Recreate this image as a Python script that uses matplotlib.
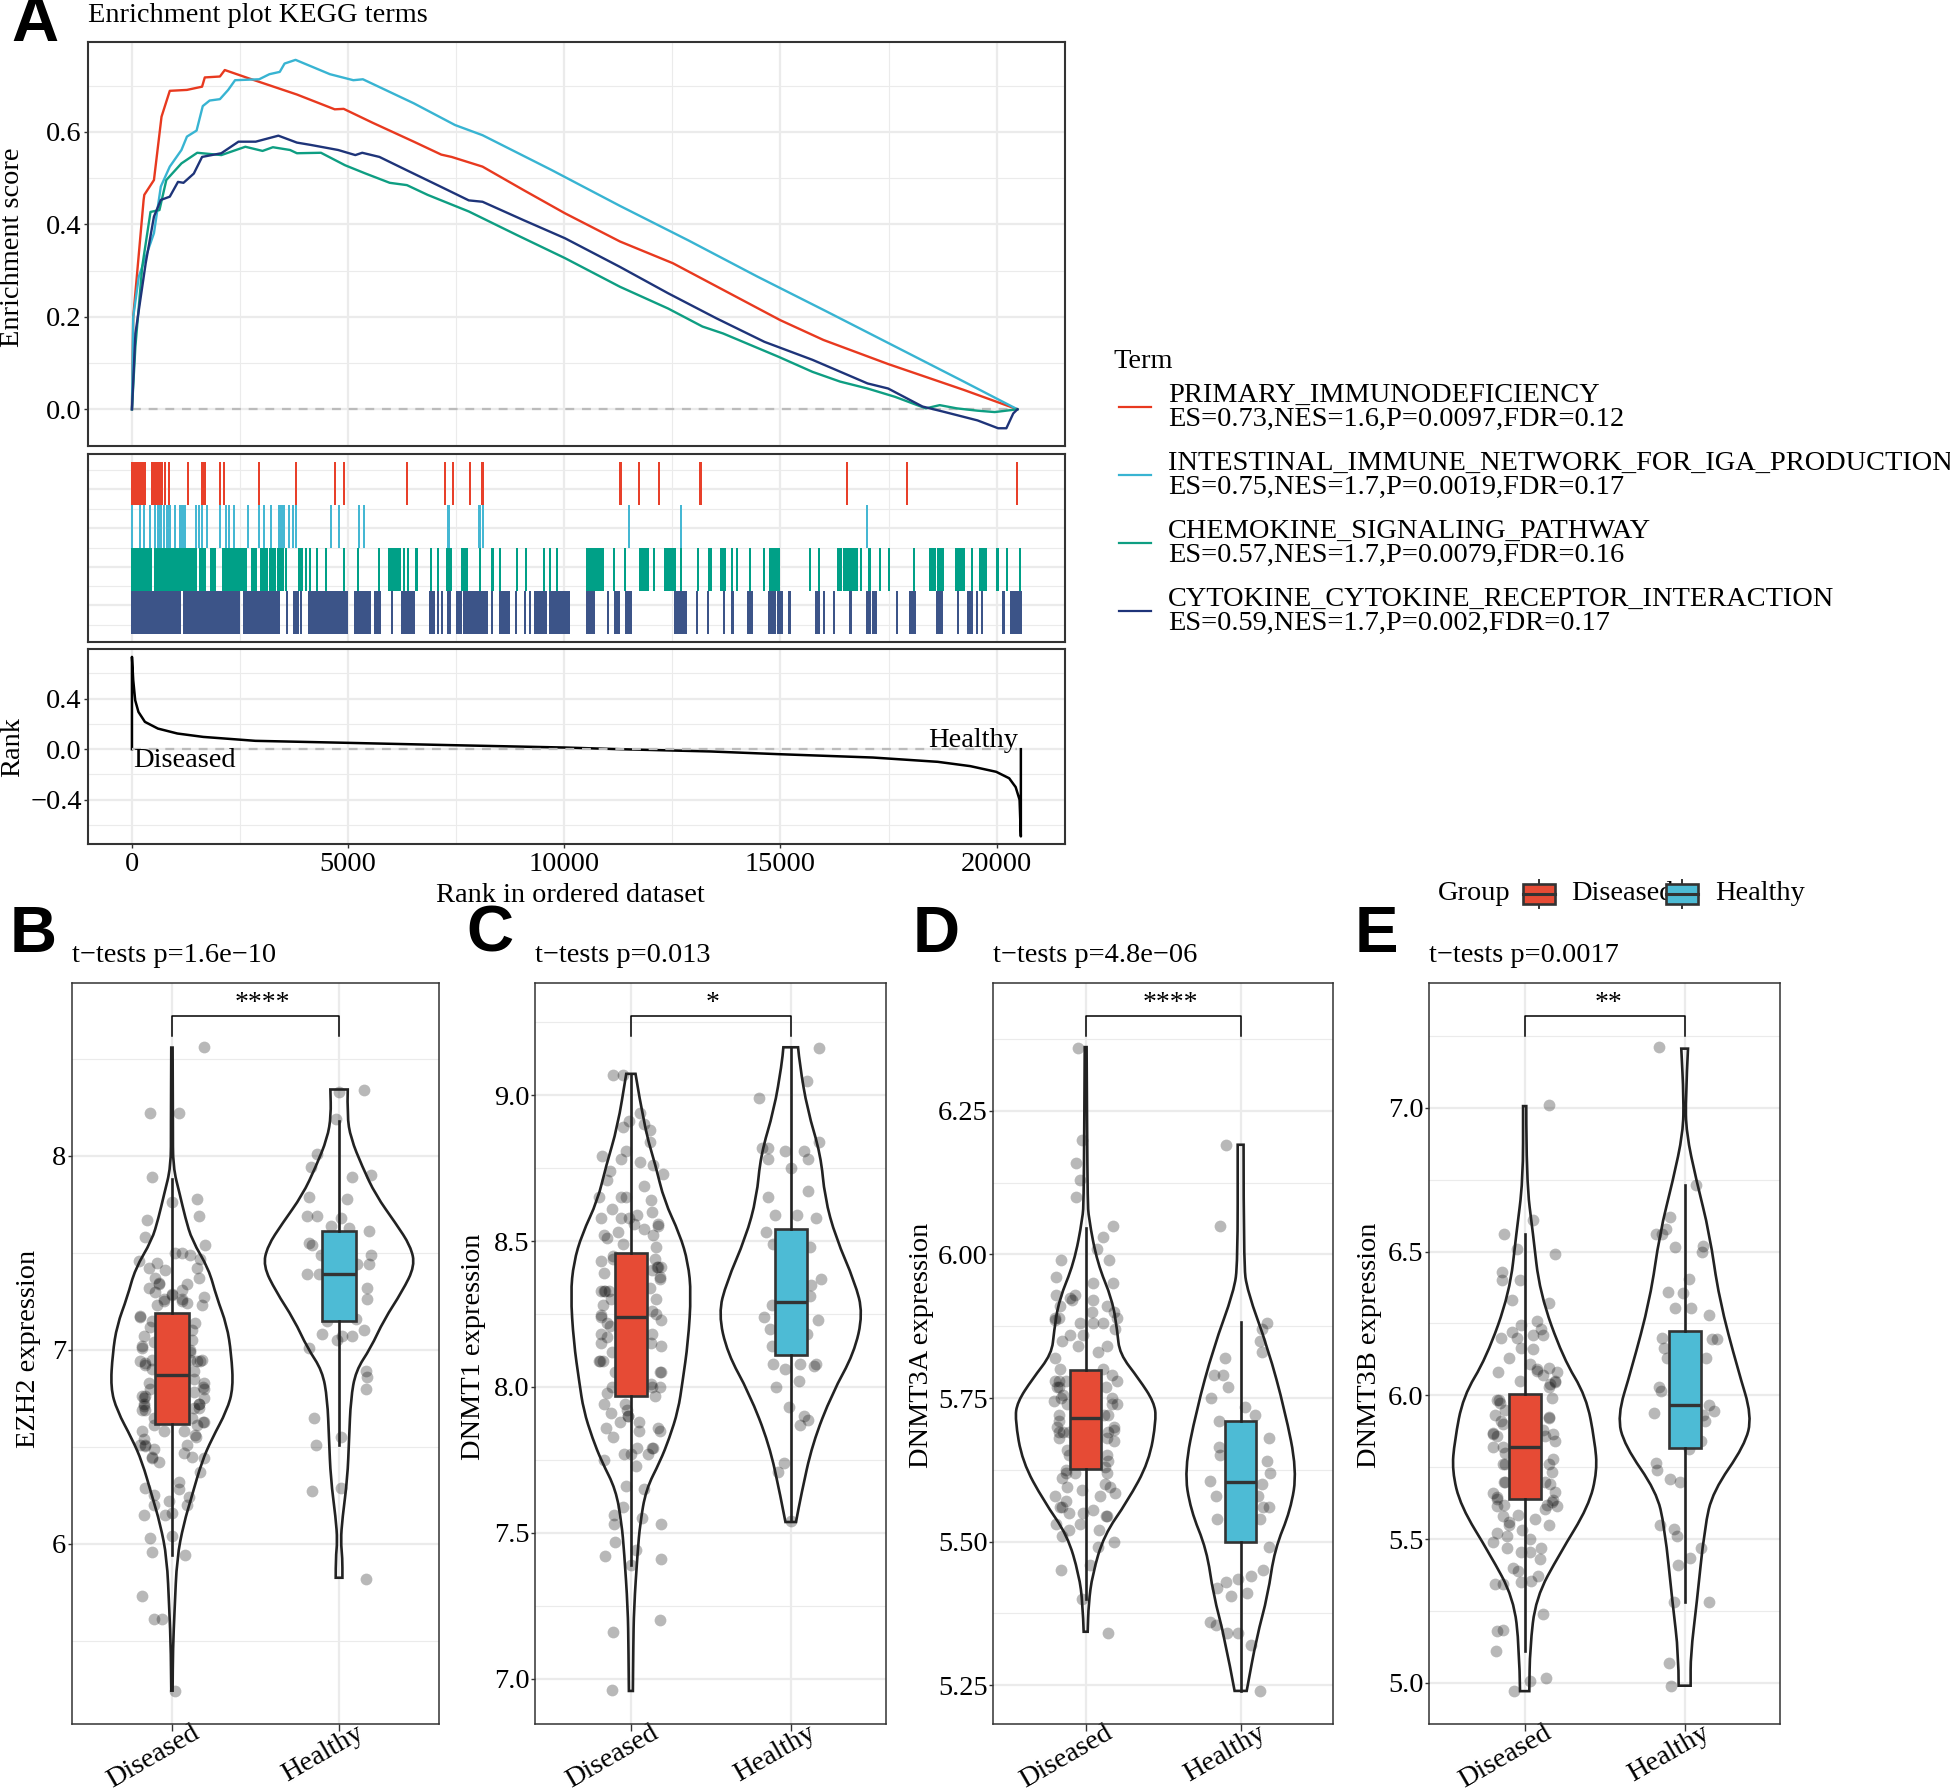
import matplotlib
matplotlib.use('Agg')
import matplotlib.pyplot as plt
from matplotlib.path import Path
from matplotlib.patches import PathPatch, Rectangle
from matplotlib.transforms import ScaledTranslation

plt.rcParams['font.family'] = ['Liberation Serif', 'DejaVu Serif']

W, H = 1950, 1789
fig = plt.figure(figsize=(W / 100, H / 100), dpi=100)

RED, BLUE, GREEN, NAVY = '#E8391F', '#38B4D2', '#0E9E82', '#1E3479'
BOX_RED, BOX_BLUE = '#E64B35', '#4DBBD5'
GRID = '#EBEBEB'
DARK = '#333333'
FS = 20.4

# ================= GSEA DATA =================
term_names = ['PRIMARY_IMMUNODEFICIENCY', 'INTESTINAL_IMMUNE_NETWORK_FOR_IGA_PRODUCTION',
              'CHEMOKINE_SIGNALING_PATHWAY', 'CYTOKINE_CYTOKINE_RECEPTOR_INTERACTION']
term_stats = ['ES=0.73,NES=1.6,P=0.0097,FDR=0.12', 'ES=0.75,NES=1.7,P=0.0019,FDR=0.17',
              'ES=0.57,NES=1.7,P=0.0079,FDR=0.16', 'ES=0.59,NES=1.7,P=0.002,FDR=0.17']

red_rank = [0, 30, 270, 286, 509, 684, 875, 1272, 1622, 1685, 2035, 2147, 2703, 3339, 3816, 4690, 4897,
            5565, 6519, 7155, 7393, 8109, 9063, 10017, 11289, 12512, 14992, 15994, 17488, 19239, 20480]
red_es = [0, .20, .453, .464, .496, .633, .689, .691, .698, .718, .720, .734, .716, .696, .681, .649, .650,
          .620, .579, .551, .546, .525, .474, .424, .363, .316, .193, .15, .098, .042, 0]

blue_rank = [0, 30, 159, 509, 668, 875, 1145, 1272, 1495, 1638, 1797, 2035, 2226, 2385, 2942, 3180, 3419, 3530,
             3784, 4579, 5120, 5342, 6519, 7473, 8109, 9699, 11289, 12879, 14469, 16059, 17649, 19239, 20480]
blue_es = [0, .20, .287, .381, .482, .525, .561, .590, .603, .656, .668, .671, .691, .712, .714, .725, .730, .748,
           .756, .725, .712, .714, .662, .615, .593, .518, .44, .365, .287, .212, .136, .06, 0]

green_rank = [0, 80, 238, 429, 636, 795, 1145, 1510, 2067, 2623, 3021, 3260, 3657, 3816, 4372, 4929, 5406, 5962,
              6360, 6837, 7791, 8904, 10017, 11289, 12402, 13197, 13674, 14946, 15741, 16377, 17013, 17649,
              18364, 18683, 19080, 19557, 19955, 20480]
green_es = [0, .136, .309, .427, .431, .496, .532, .555, .550, .568, .559, .567, .561, .554, .555, .528, .510, .490,
            .485, .464, .428, .377, .327, .265, .218, .179, .164, .114, .081, .060, .045, .027,
            .002, .009, .002, -.003, -.006, 0]

navy_rank = [0, 80, 318, 509, 668, 875, 1065, 1192, 1431, 1622, 2067, 2464, 2862, 3387, 3816, 4134, 4770, 5167,
             5326, 5724, 6360, 7155, 7791, 8109, 9063, 10017, 11289, 12402, 13515, 14628, 15741, 17013, 17490,
             18285, 18762, 19557, 20034, 20225, 20384, 20480]
navy_es = [0, .164, .316, .417, .453, .460, .492, .490, .510, .546, .554, .579, .579, .592, .577, .572, .561, .550,
           .555, .546, .517, .481, .452, .449, .409, .370, .308, .251, .197, .146, .107, .056, .045,
           .006, -.005, -.024, -.041, -.041, -.009, 0]

# rug hits as (first rank, last rank), a single hit has both the same
red_hits = [(0, 160), (200, 300), (470, 700), (770, 770), (860, 860), (1290, 1290), (1620, 1680), (2030, 2030),
            (2130, 2130), (2945, 2945), (3790, 3790), (4700, 4700), (4900, 4900), (6370, 6370), (7240, 7240),
            (7420, 7420), (7810, 7810), (8110, 8110), (11300, 11300), (11720, 11720), (12190, 12190),
            (13150, 13150), (16540, 16540), (17930, 17930), (20470, 20470)]
blue_hits = [(0, 0), (180, 180), (270, 270), (420, 420), (540, 540), (600, 600), (660, 660), (750, 750), (810, 810),
             (870, 870), (990, 990), (1110, 1110), (1170, 1170), (1230, 1230), (1490, 1490), (1550, 1550),
             (1620, 1620), (1740, 1740), (2030, 2030), (2180, 2180), (2250, 2250), (2370, 2370), (2680, 2680),
             (2930, 2930), (3050, 3050), (3220, 3220), (3400, 3400), (3460, 3520), (3640, 3640), (3730, 3730),
             (3790, 3790), (4600, 4600), (4780, 4780), (5260, 5260), (5370, 5370), (7320, 7320), (8040, 8040),
             (8120, 8120), (11500, 11500), (12700, 12700), (17000, 17000)]
green_hits = [(0, 450), (540, 930), (980, 1170), (1200, 1470), (1580, 1680), (1830, 1920), (2100, 2190), (2240, 2310),
              (2340, 2460), (2490, 2640), (2780, 2860), (2980, 3130), (3200, 3310), (3380, 3500), (3560, 3560),
              (3860, 3860), (3920, 3920), (4030, 4030), (4120, 4120), (4280, 4280), (4480, 4480), (4900, 4900),
              (5230, 5230), (5710, 5710), (5950, 6190), (6300, 6300), (6390, 6390), (6580, 6580), (6910, 6910),
              (7080, 7080), (7300, 7380), (7640, 7740), (8060, 8060), (8340, 8340), (8520, 8520), (8910, 8910),
              (9110, 9110), (9540, 9540), (9660, 9660), (9840, 9840), (10520, 10900), (11150, 11150), (11410, 11410),
              (11750, 11930), (12080, 12080), (12340, 12550), (12700, 12700), (13090, 13090), (13350, 13390),
              (13630, 13710), (13870, 13870), (13990, 13990), (14290, 14290), (14610, 14610), (14770, 14970),
              (15680, 15680), (15900, 15900), (16340, 16400), (16460, 16520), (16570, 16620), (16680, 16760),
              (16860, 16860), (17060, 17060), (17300, 17300), (17510, 17510), (18080, 18080), (18460, 18580),
              (18640, 18760), (19070, 19250), (19430, 19430), (19610, 19760), (20020, 20020), (20230, 20230),
              (20540, 20540)]
navy_hits = [(0, 480), (510, 800), (840, 1100), (1200, 1710), (1740, 1950), (1980, 2220), (2230, 2480), (2600, 2915),
             (2930, 3190), (3220, 3310), (3340, 3410), (3580, 3580), (3760, 3850), (3910, 3910), (4100, 4310),
             (4360, 4510), (4540, 4730), (4780, 4980), (5150, 5320), (5380, 5500), (5620, 5740), (6010, 6010),
             (6250, 6370), (6420, 6520), (6900, 6990), (7080, 7080), (7170, 7170), (7320, 7360), (7530, 7620),
             (7680, 7860), (7920, 8040), (8080, 8200), (8330, 8330), (8510, 8720), (8880, 8880), (9090, 9090),
             (9200, 9200), (9330, 9570), (9660, 9660), (9720, 9830), (9890, 10100), (10520, 10690), (11020, 11020),
             (11170, 11260), (11440, 11530), (12560, 12560), (12620, 12690), (12750, 12820), (13060, 13060),
             (13330, 13330), (13690, 13690), (13890, 13890), (14250, 14340), (14740, 14870), (14950, 15030),
             (15210, 15210), (15830, 15900), (16010, 16010), (16230, 16230), (16620, 16620), (17000, 17060),
             (17150, 17210), (17700, 17700), (17990, 18100), (18620, 18740), (19100, 19100), (19340, 19420),
             (19540, 19540), (19660, 19660), (20160, 20160), (20330, 20570)]

metric_rank = [0, 0, 30, 75, 150, 300, 600, 1050, 1650, 2855, 5005, 7365, 10010, 11272, 13377, 15000, 17134, 18637,
               19389, 19990, 20290, 20440, 20530, 20560, 20560]
metric_val = [0, .73, .545, .387, .295, .216, .163, .124, .097, .066, .05, .032, .013, 0, -.018, -.04, -.066, -.1,
              -.134, -.179, -.23, -.30, -.40, -.69, 0]

# ================= VIOLIN DATA =================
groups = ['Diseased', 'Healthy']

ezh2_d_outline = [(8.558, .004), (8.149, .006), (7.944, .006), (7.798, .048), (7.681, .08), (7.564, .12), (7.418, .22),
                  (7.272, .267), (7.126, .329), (6.98, .355), (6.804, .367), (6.687, .329), (6.541, .239), (6.424, .179),
                  (6.249, .12), (6.102, .07), (5.927, .03), (5.664, .016), (5.459, .006), (5.243, .004)]
ezh2_h_outline = [(8.342, .052), (8.208, .048), (8.091, .07), (7.944, .139), (7.798, .219), (7.652, .339), (7.535, .428),
                  (7.433, .454), (7.301, .378), (7.155, .269), (7.009, .189), (6.892, .1), (6.746, .07), (6.541, .06),
                  (6.336, .05), (6.132, .02), (6.015, .01), (5.927, .02), (5.825, .02)]
dnmt1_d_outline = [(9.073, .029), (8.892, .083), (8.756, .156), (8.639, .208), (8.523, .306), (8.426, .358), (8.319, .377),
                   (8.154, .358), (8.017, .323), (7.92, .296), (7.823, .24), (7.745, .183), (7.648, .094), (7.532, .058),
                   (7.434, .042), (7.24, .019), (7.104, .015), (6.958, .0125)]
dnmt1_h_outline = [(9.164, .046), (9.106, .056), (8.95, .104), (8.795, .188), (8.649, .213), (8.513, .281), (8.358, .402),
                   (8.251, .452), (8.115, .396), (7.979, .26), (7.804, .135), (7.629, .065), (7.537, .033)]
dnmt3a_d_outline = [(6.361, .006), (6.222, .009), (6.094, .013), (6.064, .019), (5.985, .075), (5.921, .172), (5.867, .204),
                    (5.827, .219), (5.783, .344), (5.743, .441), (5.713, .456), (5.639, .409), (5.57, .269), (5.511, .118),
                    (5.442, .043), (5.392, .019), (5.343, .013)]
dnmt3a_h_outline = [(6.191, .019), (5.985, .019), (5.936, .043), (5.837, .176), (5.728, .286), (5.624, .363), (5.555, .323),
                    (5.486, .219), (5.407, .176), (5.333, .103), (5.24, .039)]
dnmt3b_d_outline = [(7.006, .01), (6.748, .01), (6.563, .052), (6.357, .094), (6.13, .24), (5.996, .385), (5.841, .438),
                    (5.738, .454), (5.614, .4), (5.449, .219), (5.295, .069), (5.12, .033), (4.971, .029)]
dnmt3b_h_outline = [(7.206, .021), (7.037, .006), (6.913, .01), (6.748, .073), (6.563, .156), (6.336, .215), (6.089, .333),
                    (5.928, .421), (5.825, .375), (5.666, .177), (5.542, .125), (5.274, .075), (5.099, .0375), (4.99, .0375)]

# box stats: low whisker, q1, median, q3, high whisker
ezh2_d_box = [5.94, 6.62, 6.87, 7.19, 7.88]
ezh2_h_box = [6.51, 7.15, 7.39, 7.61, 8.18]
dnmt1_d_box = [7.39, 7.97, 8.24, 8.46, 9.07]
dnmt1_h_box = [7.54, 8.11, 8.29, 8.54, 9.16]
dnmt3a_d_box = [5.40, 5.626, 5.715, 5.798, 6.046]
dnmt3a_h_box = [5.24, 5.50, 5.603, 5.71, 5.883]
dnmt3b_d_box = [5.11, 5.64, 5.82, 6.006, 6.56]
dnmt3b_h_box = [5.28, 5.816, 5.965, 6.223, 6.73]

# jittered samples as (offset from group centre, expression)
ezh2_d_points = [(.19, 8.56), (-.13, 8.22), (.04, 8.22), (-.12, 7.89), (0, 7.76), (.15, 7.78), (.16, 7.69), (-.15, 7.67),
                 (-.16, 7.58), (.2, 7.54), (.02, 7.5), (.06, 7.5), (.11, 7.49), (.17, 7.47), (-.2, 7.46), (-.09, 7.45),
                 (-.14, 7.42), (-.04, 7.41), (.15, 7.42), (.16, 7.37), (-.1, 7.37), (-.08, 7.34), (-.14, 7.32), (.09, 7.34),
                 (.06, 7.31), (-.1, 7.3), (0, 7.28), (.19, 7.27), (-.05, 7.25), (.06, 7.25), (-.09, 7.23), (.09, 7.24),
                 (.18, 7.23), (-.19, 7.17), (.14, 7.14), (-.13, 7.12), (-.17, 7.07), (-.11, 7.04), (-.18, 7.01), (.11, 6.99),
                 (.15, 6.94), (.18, 6.95), (-.19, 6.94), (-.16, 6.92), (.13, 6.89), (-.14, 6.83), (.19, 6.83), (.19, 6.8),
                 (.13, 6.78), (-.18, 6.76), (-.16, 6.76), (.19, 6.75), (.16, 6.72), (-.17, 6.72), (-.18, 6.69), (-.16, 6.69),
                 (.16, 6.7), (.19, 6.63), (.15, 6.61), (-.11, 6.61), (-.05, 6.58), (.07, 6.58), (.14, 6.56), (-.18, 6.58),
                 (-.17, 6.54), (.09, 6.51), (-.19, 6.51), (-.16, 6.51), (-.11, 6.49), (.07, 6.47), (.12, 6.45), (-.12, 6.44),
                 (.19, 6.44), (-.08, 6.42), (.17, 6.37), (-.16, 6.29), (.04, 6.32), (.04, 6.28), (-.11, 6.25), (.1, 6.24),
                 (-.02, 6.22), (.09, 6.2), (-.11, 6.2), (0, 6.16), (-.04, 6.15), (-.17, 6.15), (0, 6.04), (-.13, 6.03),
                 (-.12, 5.96), (.08, 5.94), (-.18, 5.73), (-.11, 5.61), (-.06, 5.61), (.02, 5.24), (.12, 7.1), (.11, 7.0),
                 (-.12, 6.9), (.13, 6.7), (-.19, 7.175), (-.18, 7.02), (-.16, 6.93), (-.165, 6.75), (-.17, 6.71), (-.08, 7.345),
                 (-.05, 7.26), (0, 7.29), (.06, 7.26), (.17, 6.94), (.16, 6.72), (.185, 6.81), (.185, 6.63), (.145, 6.55),
                 (-.16, 6.505), (-.12, 6.445), (.12, 7.05), (.11, 6.95), (.13, 6.85), (-.12, 7.15), (-.12, 6.95), (-.13, 6.8),
                 (.12, 6.65), (-.11, 6.65)]
ezh2_h_points = [(.15, 8.34), (0, 8.33), (-.02, 8.19), (-.13, 8.01), (-.17, 7.94), (.19, 7.9), (.08, 7.89), (-.18, 7.79),
                 (.05, 7.78), (-.19, 7.69), (-.13, 7.69), (.01, 7.68), (-.05, 7.64), (.06, 7.63), (.18, 7.61), (-.18, 7.55),
                 (-.16, 7.54), (.19, 7.49), (-.11, 7.49), (.18, 7.44), (.11, 7.44), (-.19, 7.39), (-.12, 7.39), (.17, 7.32),
                 (.17, 7.26), (-.07, 7.15), (.1, 7.16), (.15, 7.1), (-.1, 7.08), (.02, 7.07), (.08, 7.07), (-.01, 7.05),
                 (-.18, 7.01), (.16, 6.89), (.17, 6.86), (.16, 6.8), (-.15, 6.65), (.01, 6.55), (-.14, 6.51), (-.16, 6.27),
                 (.01, 6.29), (.16, 5.82)]
dnmt1_d_points = [(-.11, 9.07), (-.05, 9.07), (.06, 8.94), (-.01, 8.91), (-.05, 8.89), (.08, 8.9), (.12, 8.88), (.12, 8.84),
                  (-.03, 8.81), (-.18, 8.79), (-.06, 8.78), (.06, 8.77), (.14, 8.76), (-.13, 8.74), (.2, 8.73), (-.15, 8.71),
                  (.08, 8.69), (-.2, 8.65), (-.03, 8.65), (-.06, 8.65), (.125, 8.64), (-.12, 8.61), (.13, 8.6), (.04, 8.59),
                  (-.19, 8.58), (-.06, 8.58), (-.01, 8.58), (.02, 8.56), (.17, 8.56), (-.08, 8.53), (.08, 8.54), (-.17, 8.52),
                  (-.15, 8.51), (.14, 8.52), (-.05, 8.49), (.16, 8.48), (-.11, 8.45), (.15, 8.44), (-.19, 8.43), (.19, 8.41),
                  (.17, 8.41), (-.17, 8.39), (.18, 8.37), (-.19, 8.33), (-.17, 8.33), (-.14, 8.33), (.12, 8.34), (.16, 8.3),
                  (-.175, 8.28), (.13, 8.26), (-.19, 8.24), (.16, 8.25), (.19, 8.23), (-.15, 8.22), (-.19, 8.18), (.13, 8.18),
                  (-.15, 8.17), (.19, 8.14), (-.19, 8.15), (-.2, 8.09), (-.175, 8.09), (.18, 8.05), (-.10, 8.05), (.18, 8.0),
                  (.125, 8.01), (-.15, 7.98), (.15, 7.97), (-.17, 7.94), (-.035, 7.94), (-.125, 7.91), (-.015, 7.9), (-.07, 7.88),
                  (.05, 7.88), (.17, 7.86), (-.155, 7.86), (.18, 7.85), (.05, 7.85), (-.115, 7.83), (.14, 7.79), (.04, 7.79),
                  (-.045, 7.77), (0, 7.77), (.11, 7.77), (-.17, 7.75), (.03, 7.73), (-.03, 7.66), (.08, 7.65), (-.05, 7.59),
                  (-.105, 7.56), (.07, 7.55), (-.105, 7.53), (.19, 7.53), (-.1, 7.47), (.03, 7.44), (-.165, 7.42), (.19, 7.41),
                  (0, 7.39), (.18, 7.2), (-.11, 7.16), (-.12, 6.96), (-.19, 8.245), (-.195, 8.09), (-.165, 8.33), (.18, 8.375),
                  (.135, 7.79), (-.02, 7.9), (-.025, 7.92), (.165, 8.41), (.17, 8.55), (.19, 8.05), (.125, 8.15), (-.125, 8.3),
                  (-.12, 8.12), (.13, 8.4), (-.12, 8.0), (-.11, 8.44), (.13, 8.0), (-.13, 8.21)]
dnmt1_h_points = [(.18, 9.16), (.1, 9.05), (-.2, 8.99), (.18, 8.84), (-.18, 8.82), (-.14, 8.82), (-.035, 8.81), (.08, 8.81),
                  (-.14, 8.78), (.105, 8.78), (0, 8.75), (.105, 8.67), (-.145, 8.65), (-.1, 8.59), (.04, 8.59), (.16, 8.58),
                  (-.155, 8.53), (-.11, 8.49), (.12, 8.48), (.19, 8.37), (.13, 8.35), (.12, 8.31), (-.12, 8.28), (-.17, 8.24),
                  (.17, 8.23), (-.13, 8.2), (.1, 8.18), (-.12, 8.14), (-.11, 8.08), (.055, 8.08), (-.035, 8.06), (.145, 8.07),
                  (.16, 8.08), (.05, 8.02), (-.095, 8.0), (-.01, 7.93), (.08, 7.9), (.11, 7.885), (.06, 7.87), (-.04, 7.74),
                  (-.08, 7.71), (0, 7.54)]
dnmt3a_d_points = [(-.05, 6.36), (-.025, 6.2), (-.06, 6.16), (-.035, 6.13), (-.065, 6.1), (.175, 6.05), (.115, 6.03), (.07, 6.01),
                   (.15, 5.99), (-.16, 5.99), (-.19, 5.96), (-.19, 5.93), (-.07, 5.93), (-.09, 5.92), (.045, 5.95), (.175, 5.95),
                   (.045, 5.92), (.14, 5.91), (-.165, 5.91), (.04, 5.9), (.18, 5.9), (-.2, 5.89), (-.175, 5.89), (.2, 5.89),
                   (-.035, 5.88), (.05, 5.88), (.11, 5.88), (.19, 5.87), (-.1, 5.86), (-.02, 5.86), (-.15, 5.85), (-.05, 5.84),
                   (.135, 5.84), (.08, 5.83), (-.2, 5.82), (-.165, 5.8), (.11, 5.8), (-.2, 5.78), (.17, 5.79), (.2, 5.78),
                   (-.175, 5.77), (-.145, 5.755), (-.205, 5.745), (.17, 5.75), (.2, 5.74), (-.17, 5.72), (.145, 5.72), (-.185, 5.7),
                   (.18, 5.7), (-.145, 5.69), (.145, 5.69), (-.175, 5.68), (.18, 5.675), (-.11, 5.65), (.135, 5.65), (.145, 5.64),
                   (-.13, 5.625), (.135, 5.62), (-.155, 5.61), (-.07, 5.62), (.125, 5.6), (-.12, 5.595), (.16, 5.595), (.19, 5.585),
                   (-.025, 5.59), (.09, 5.58), (-.2, 5.58), (-.13, 5.57), (-.165, 5.56), (.045, 5.555), (-.105, 5.55), (-.015, 5.55),
                   (.14, 5.545), (-.035, 5.53), (-.19, 5.53), (-.11, 5.52), (.085, 5.52), (-.155, 5.51), (.18, 5.5), (.08, 5.49),
                   (.025, 5.46), (-.16, 5.45), (-.025, 5.4), (.145, 5.34), (-.17, 5.78), (-.16, 5.75), (-.185, 5.77), (-.17, 5.71),
                   (-.17, 5.69), (.17, 5.74), (.18, 5.695), (-.13, 5.62), (-.155, 5.56), (-.1, 5.925), (.14, 5.68), (-.2, 5.885),
                   (-.12, 5.74), (.12, 5.72), (-.12, 5.66), (.125, 5.63), (-.125, 5.78), (.13, 5.77), (.13, 5.545), (-.11, 5.69)]
dnmt3a_h_points = [(-.095, 6.19), (-.13, 6.05), (.17, 5.88), (.14, 5.87), (.125, 5.85), (.135, 5.83), (-.1, 5.82), (-.17, 5.79),
                   (-.115, 5.79), (-.08, 5.77), (-.19, 5.75), (.03, 5.735), (.09, 5.72), (-.14, 5.71), (.18, 5.68), (-.14, 5.665),
                   (-.13, 5.65), (.17, 5.64), (.19, 5.62), (-.2, 5.605), (.14, 5.6), (-.16, 5.58), (.115, 5.58), (.145, 5.56),
                   (.185, 5.56), (-.155, 5.54), (.125, 5.54), (.18, 5.49), (.145, 5.45), (.07, 5.44), (-.015, 5.435), (-.095, 5.43),
                   (-.15, 5.42), (.04, 5.41), (-.06, 5.405), (-.2, 5.36), (-.09, 5.34), (-.015, 5.34), (-.16, 5.355), (.065, 5.32),
                   (.125, 5.24)]
dnmt3b_d_points = [(.15, 7.01), (.05, 6.61), (-.13, 6.56), (-.05, 6.51), (.19, 6.49), (-.14, 6.43), (-.14, 6.4), (-.03, 6.4),
                   (-.08, 6.33), (.15, 6.32), (.075, 6.26), (-.02, 6.245), (.1, 6.23), (-.145, 6.2), (-.08, 6.22), (-.05, 6.2),
                   (.115, 6.21), (.05, 6.21), (-.02, 6.165), (.055, 6.16), (-.1, 6.13), (.035, 6.11), (.075, 6.085), (.155, 6.095),
                   (-.165, 6.08), (.2, 6.08), (.115, 6.07), (-.03, 6.05), (.19, 6.05), (.15, 6.03), (-.175, 5.985), (.17, 5.99),
                   (-.155, 5.975), (-.185, 5.93), (.155, 5.925), (-.145, 5.91), (-.195, 5.87), (.18, 5.865), (-.175, 5.86), (.115, 5.88),
                   (.19, 5.84), (-.195, 5.82), (-.135, 5.82), (.18, 5.78), (-.135, 5.76), (.15, 5.76), (.17, 5.735), (-.125, 5.7),
                   (.16, 5.69), (-.195, 5.66), (.19, 5.665), (-.175, 5.645), (.18, 5.635), (-.175, 5.615), (.2, 5.615), (.125, 5.605),
                   (-.04, 5.585), (-.135, 5.58), (-.1, 5.56), (.065, 5.57), (.155, 5.55), (-.015, 5.53), (-.175, 5.52), (-.11, 5.51),
                   (.035, 5.5), (-.195, 5.49), (.105, 5.47), (-.11, 5.47), (-.02, 5.455), (.035, 5.455), (.095, 5.43), (-.075, 5.4),
                   (-.04, 5.39), (.085, 5.37), (-.185, 5.345), (-.135, 5.345), (-.02, 5.35), (.04, 5.355), (.115, 5.24), (-.175, 5.18),
                   (-.135, 5.185), (-.18, 5.11), (.035, 5.005), (.135, 5.015), (-.065, 4.97), (-.16, 5.985), (-.195, 5.865), (-.135, 5.9),
                   (-.125, 5.76), (-.13, 5.7), (-.175, 5.64), (-.1, 5.55), (.19, 6.045), (.16, 6.04), (.075, 6.09), (.155, 5.92),
                   (.17, 5.63), (.14, 5.62), (-.125, 5.95), (.13, 5.86), (-.12, 5.8), (.13, 5.7), (-.13, 5.62)]
dnmt3b_h_points = [(-.16, 7.21), (.07, 6.73), (-.09, 6.62), (-.115, 6.58), (-.18, 6.56), (-.14, 6.56), (.115, 6.52), (-.06, 6.515),
                   (.11, 6.5), (.025, 6.405), (-.105, 6.36), (-.01, 6.355), (-.06, 6.305), (.04, 6.305), (.15, 6.28), (-.14, 6.2),
                   (.17, 6.195), (.2, 6.195), (-.13, 6.165), (-.11, 6.13), (.135, 6.13), (-.16, 6.03), (-.145, 6.015), (.155, 5.965),
                   (.185, 5.945), (-.19, 5.94), (.115, 5.93), (.125, 5.91), (.105, 5.84), (.03, 5.815), (-.18, 5.765), (-.17, 5.74),
                   (-.09, 5.71), (-.03, 5.7), (-.155, 5.55), (-.065, 5.535), (-.05, 5.51), (.1, 5.47), (.035, 5.435), (-.04, 5.41),
                   (-.065, 5.28), (.15, 5.28), (-.095, 5.07), (-.085, 4.99)]


def add_ax(left, top, right, bottom):
    # panel box given in image pixels
    return fig.add_axes([left / W, 1 - bottom / H, (right - left) / W, (bottom - top) / H])


def style_frame(ax, lw):
    ax.set_axisbelow(True)
    for s in ax.spines.values():
        s.set_linewidth(lw)
        s.set_color(DARK)
    ax.tick_params(which='minor', length=0)
    ax.grid(which='major', color=GRID, lw=1.6)
    ax.grid(which='minor', color=GRID, lw=0.8)


# ================= PANEL A =================
xlim_a = (-1028, 21588)
x_major = [0, 5000, 10000, 15000, 20000]
x_minor = [2500, 7500, 12500, 17500]

ax_es = add_ax(87.5, 42.3, 1065.3, 446)
ax_rug = add_ax(87.5, 454, 1065.3, 642)
ax_rank = add_ax(87.5, 649.3, 1065.3, 844)

for a in (ax_es, ax_rug, ax_rank):
    a.set_xlim(*xlim_a)
    a.set_xticks(x_major)
    a.set_xticks(x_minor, minor=True)

ax_es.set_ylim(-0.0794, 0.794)
ax_es.set_yticks([0, .2, .4, .6], ['0.0', '0.2', '0.4', '0.6'])
ax_es.set_yticks([.1, .3, .5, .7], minor=True)
ax_es.tick_params(axis='x', length=0, labelbottom=False)
ax_es.tick_params(axis='y', labelsize=FS, length=3, width=1, pad=1, color=DARK)
style_frame(ax_es, 1.5)

ax_es.plot([0, 20480], [0, 0], color='#BBBBBB', lw=1.6, ls=(0, (4, 3.5)), zorder=2)
ax_es.plot(red_rank, red_es, color=RED, lw=1.7, zorder=3)
ax_es.plot(blue_rank, blue_es, color=BLUE, lw=1.7, zorder=3)
ax_es.plot(green_rank, green_es, color=GREEN, lw=1.7, zorder=3)
ax_es.plot(navy_rank, navy_es, color=NAVY, lw=1.7, zorder=3)

ax_rug.set_ylim(-0.186, 4.18)
ax_rug.set_yticks([.667, 1.558, 2.457, 3.357], [])
ax_rug.set_yticks([.22, 1.116, 2.0, 2.9, 3.8], minor=True)
ax_rug.tick_params(axis='both', which='both', length=0, labelbottom=False)
style_frame(ax_rug, 1.5)
rug_colors = ['#E8402A', '#45B7D3', '#00A087', '#3C5488']
for row, (hits, c) in enumerate(zip([navy_hits, green_hits, blue_hits, red_hits], rug_colors[::-1])):
    bars = [(s - 25, e - s + 50) for s, e in hits]
    ax_rug.broken_barh(bars, (row, 1), facecolors=c, lw=0, zorder=3)

ax_rank.set_ylim(-0.75, 0.79)
ax_rank.set_yticks([-.4, 0, .4], ['\u22120.4', '0.0', '0.4'])
ax_rank.set_yticks([-.6, -.2, .2, .6], minor=True)
ax_rank.set_xticklabels(['0', '5000', '10000', '15000', '20000'])
ax_rank.tick_params(axis='y', labelsize=FS, length=3, width=1, pad=1, color=DARK)
ax_rank.tick_params(axis='x', labelsize=FS, length=3, width=1, pad=3, color=DARK)
style_frame(ax_rank, 1.5)
ax_rank.plot(metric_rank, metric_val, color='k', lw=1.8, zorder=3)
ax_rank.plot([0, 20480], [0, 0], color='#BBBBBB', lw=1.6, ls=(0, (4, 3.5)), zorder=4)
ax_rank.text(30, -0.09, 'Diseased', fontsize=20.5, ha='left', va='center', zorder=5)
ax_rank.text(20500, 0.065, 'Healthy', fontsize=20.5, ha='right', va='center', zorder=5)

# ================= PANELS B-E =================
panels = [
    dict(box=(72, 982.8, 439, 1724.2), ylim=(5.07, 8.892), ticks=[6, 7, 8], labels=['6', '7', '8'],
         minor=[5.5, 6.5, 7.5, 8.5], ylabel='EZH2 expression', title='t\u2212tests p=1.6e\u221210', stars='****',
         bracket=(8.722, 8.618), d=(ezh2_d_outline, ezh2_d_box, ezh2_d_points), h=(ezh2_h_outline, ezh2_h_box, ezh2_h_points)),
    dict(box=(535.3, 982.8, 886.3, 1724.2), ylim=(6.844, 9.385), ticks=[7, 7.5, 8, 8.5, 9],
         labels=['7.0', '7.5', '8.0', '8.5', '9.0'], minor=[7.25, 7.75, 8.25, 8.75, 9.25], ylabel='DNMT1 expression',
         title='t\u2212tests p=0.013', stars='*', bracket=(9.272, 9.202),
         d=(dnmt1_d_outline, dnmt1_d_box, dnmt1_d_points), h=(dnmt1_h_outline, dnmt1_h_box, dnmt1_h_points)),
    dict(box=(993, 982.8, 1333.3, 1724.2), ylim=(5.182, 6.473), ticks=[5.25, 5.5, 5.75, 6, 6.25],
         labels=['5.25', '5.50', '5.75', '6.00', '6.25'], minor=[5.375, 5.625, 5.875, 6.125, 6.375],
         ylabel='DNMT3A expression', title='t\u2212tests p=4.8e\u221206', stars='****', bracket=(6.416, 6.381),
         d=(dnmt3a_d_outline, dnmt3a_d_box, dnmt3a_d_points), h=(dnmt3a_h_outline, dnmt3a_h_box, dnmt3a_h_points)),
    dict(box=(1429, 982.8, 1780.3, 1724.2), ylim=(4.856, 7.435), ticks=[5, 5.5, 6, 6.5, 7],
         labels=['5.0', '5.5', '6.0', '6.5', '7.0'], minor=[5.25, 5.75, 6.25, 6.75, 7.25], ylabel='DNMT3B expression',
         title='t\u2212tests p=0.0017', stars='**', bracket=(7.318, 7.251),
         d=(dnmt3b_d_outline, dnmt3b_d_box, dnmt3b_d_points), h=(dnmt3b_h_outline, dnmt3b_h_box, dnmt3b_h_points)),
]


def violin_path(pos, outline):
    # quadratic spline through the read outline, flat at both ends
    right = [(pos + w, v) for v, w in outline]
    left = [(pos - w, v) for v, w in outline[::-1]]
    verts, codes = [right[0]], [Path.MOVETO]
    for side in (right, left):
        if side is left:
            verts.append(side[0])
            codes.append(Path.LINETO)
        for i in range(1, len(side) - 1):
            mid = ((side[i][0] + side[i + 1][0]) / 2, (side[i][1] + side[i + 1][1]) / 2)
            verts += [side[i], mid]
            codes += [Path.CURVE3, Path.CURVE3]
        verts.append(side[-1])
        codes.append(Path.LINETO)
    verts.append(right[0])
    codes.append(Path.CLOSEPOLY)
    return Path(verts, codes)


def draw_group(ax, pos, outline, stats, points, fill):
    ax.scatter([pos + p[0] for p in points], [p[1] for p in points], s=72, c='k', alpha=0.28, lw=0, zorder=2)
    ax.add_patch(PathPatch(violin_path(pos, outline), fc='none', ec='#222222', lw=1.9, zorder=3))
    ax.bxp([dict(whislo=stats[0], q1=stats[1], med=stats[2], q3=stats[3], whishi=stats[4])], positions=[pos], widths=0.2,
           patch_artist=True, showfliers=False, showcaps=False, manage_ticks=False, zorder=4,
           boxprops=dict(facecolor=fill, edgecolor=DARK, lw=1.9),
           medianprops=dict(color=DARK, lw=2.4, solid_capstyle='butt'),
           whiskerprops=dict(color='#222222', lw=1.9))


for p in panels:
    ax = add_ax(*p['box'])
    ax.set_xlim(0.402, 2.598)
    ax.set_ylim(*p['ylim'])
    ax.set_xticks([1, 2], groups)
    ax.set_yticks(p['ticks'], p['labels'])
    ax.set_yticks(p['minor'], minor=True)
    ax.tick_params(axis='y', labelsize=FS, length=3, width=1, pad=1, color=DARK)
    ax.tick_params(axis='x', labelsize=FS, length=5, width=1, pad=-8, color=DARK)
    style_frame(ax, 1.1)
    for lab, dx in zip(ax.get_xticklabels(), [-0.19, -0.16]):
        lab.set_rotation(30)
        lab.set_ha('center')
        lab.set_transform(lab.get_transform() + ScaledTranslation(dx, 0, fig.dpi_scale_trans))
    draw_group(ax, 1, p['d'][0], p['d'][1], p['d'][2], BOX_RED)
    draw_group(ax, 2, p['h'][0], p['h'][1], p['h'][2], BOX_BLUE)
    top, tip = p['bracket']
    ax.plot([1, 1, 2, 2], [tip, top, top, tip], color='k', lw=1.1, zorder=5)

# ================= TEXT AND LEGENDS =================
ov = fig.add_axes([0, 0, 1, 1])
ov.set_xlim(0, W)
ov.set_ylim(H, 0)
ov.axis('off')

for letter, x, y in [('A', 11, 24), ('B', 10, 935), ('C', 466, 935), ('D', 913, 935), ('E', 1355, 935)]:
    ov.text(x, y, letter, fontsize=47, fontweight='bold', family='Liberation Sans', ha='left', va='center')

ov.text(87.5, 15, 'Enrichment plot KEGG terms', fontsize=FS, ha='left', va='center')
ov.text(13, 247, 'Enrichment score', fontsize=FS, rotation=90, ha='center', va='center')
ov.text(13, 747, 'Rank', fontsize=FS, rotation=90, ha='center', va='center')
ov.text(570, 895, 'Rank in ordered dataset', fontsize=FS, ha='center', va='center')

ov.text(1113, 361, 'Term', fontsize=FS, ha='left', va='center')
for i, (name, stat, c) in enumerate(zip(term_names, term_stats, [RED, BLUE, GREEN, NAVY])):
    y = [407, 475, 543, 611][i]
    ov.plot([1119, 1151], [y, y], color=c, lw=1.6)
    ov.text(1168, y - 12, name, fontsize=FS, ha='left', va='center')
    ov.text(1168, y + 12, stat, fontsize=FS, ha='left', va='center')

for p, xl, yl, xt, xc in zip(panels, [29, 474, 922, 1370], [1349, 1347, 1345, 1345], [72, 535, 993, 1429], [262, 713, 1170, 1609]):
    ov.text(xl, yl, p['ylabel'], fontsize=FS, rotation=90, ha='center', va='center')
    ov.text(xt, 956, p['title'], fontsize=FS, ha='left', va='center')
    ov.text(xc, 1003, p['stars'], fontsize=20, ha='center', va='center')

ov.text(1438, 894, 'Group', fontsize=FS, ha='left', va='center')
for x0, fill, label, xt in [(1523, BOX_RED, 'Diseased', 1571), (1666, BOX_BLUE, 'Healthy', 1715)]:
    ov.plot([x0 + 16, x0 + 16], [880, 908], color=DARK, lw=1.4)
    ov.add_patch(Rectangle((x0, 884), 32, 20, fc=fill, ec=DARK, lw=1.9, zorder=3))
    ov.plot([x0, x0 + 32], [894, 894], color=DARK, lw=2.2, zorder=4)
    ov.text(xt, 893, label, fontsize=FS, ha='left', va='center', zorder=2)

fig.savefig('out.png', dpi=100)
